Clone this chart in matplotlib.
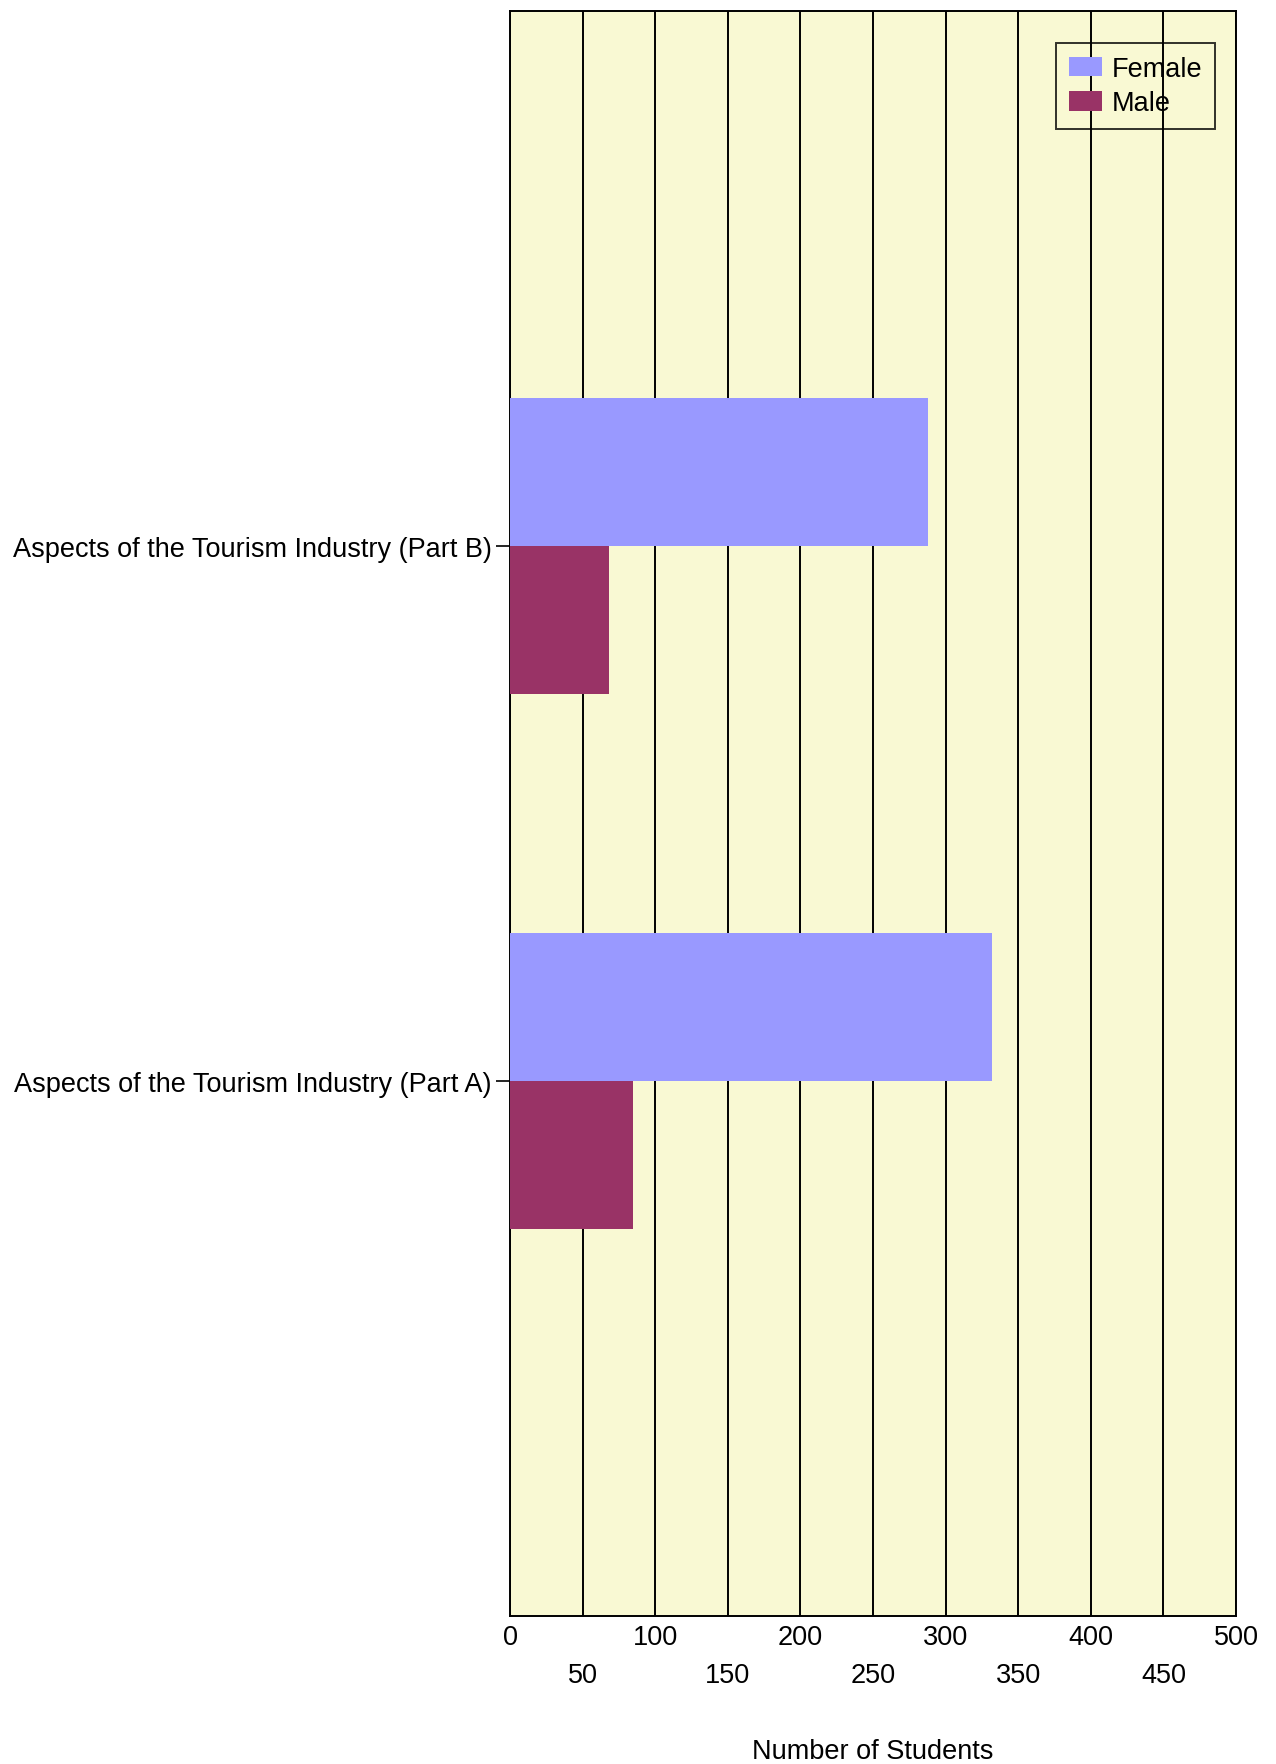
import matplotlib.pyplot as plt
import numpy as np

plt.rcParams['font.family'] = ['Liberation Sans', 'DejaVu Sans']

categories = ["Aspects of the Tourism Industry (Part A)",
              "Aspects of the Tourism Industry (Part B)"]
female = [332, 288]
male = [85, 68]

major_ticks = [0, 100, 200, 300, 400, 500]
minor_ticks = [50, 150, 250, 350, 450]

fs = 19.5

fig = plt.figure(figsize=(12.76, 17.65), dpi=100)
ax = fig.add_axes([0.3997, 0.0839, 0.569, 0.9093])
ax.set_facecolor('#F9F9D3')

y = np.arange(len(categories))
h = 0.277
ax.barh(y + h / 2, female, height=h, color='#9999FF', label='Female', zorder=3)
ax.barh(y - h / 2, male, height=h, color='#993366', label='Male', zorder=3)

ax.set_xlim(0, 500)
ax.set_ylim(-1, 2)
ax.set_yticks(y)
ax.set_yticklabels(categories, fontsize=fs)
ax.tick_params(axis='y', length=10, width=1.2, pad=3)

ax.set_xticks(major_ticks)
ax.set_xticks(minor_ticks, minor=True)
ax.set_xticklabels([str(t) for t in major_ticks], fontsize=fs)
ax.set_xticklabels([str(t) for t in minor_ticks], minor=True, fontsize=fs)
ax.tick_params(axis='x', which='major', length=0, pad=6)
ax.tick_params(axis='x', which='minor', length=0, pad=33)

for t in major_ticks + minor_ticks:
    ax.axvline(t, color='black', linewidth=1.4, zorder=2)

for s in ax.spines.values():
    s.set_color('black')
    s.set_linewidth(1.4)

ax.set_xlabel('Number of Students', fontsize=fs, labelpad=36)

leg = ax.legend(loc='upper right', bbox_to_anchor=(0.971, 0.980), fontsize=fs,
                borderaxespad=0, fancybox=False, edgecolor='black', facecolor='none',
                handlelength=1.22, handleheight=0.74, handletextpad=0.37,
                labelspacing=0.32, borderpad=0.47)
leg.get_frame().set_linewidth(1.4)
leg.set_zorder(5)

plt.savefig('out.png', dpi=100)
